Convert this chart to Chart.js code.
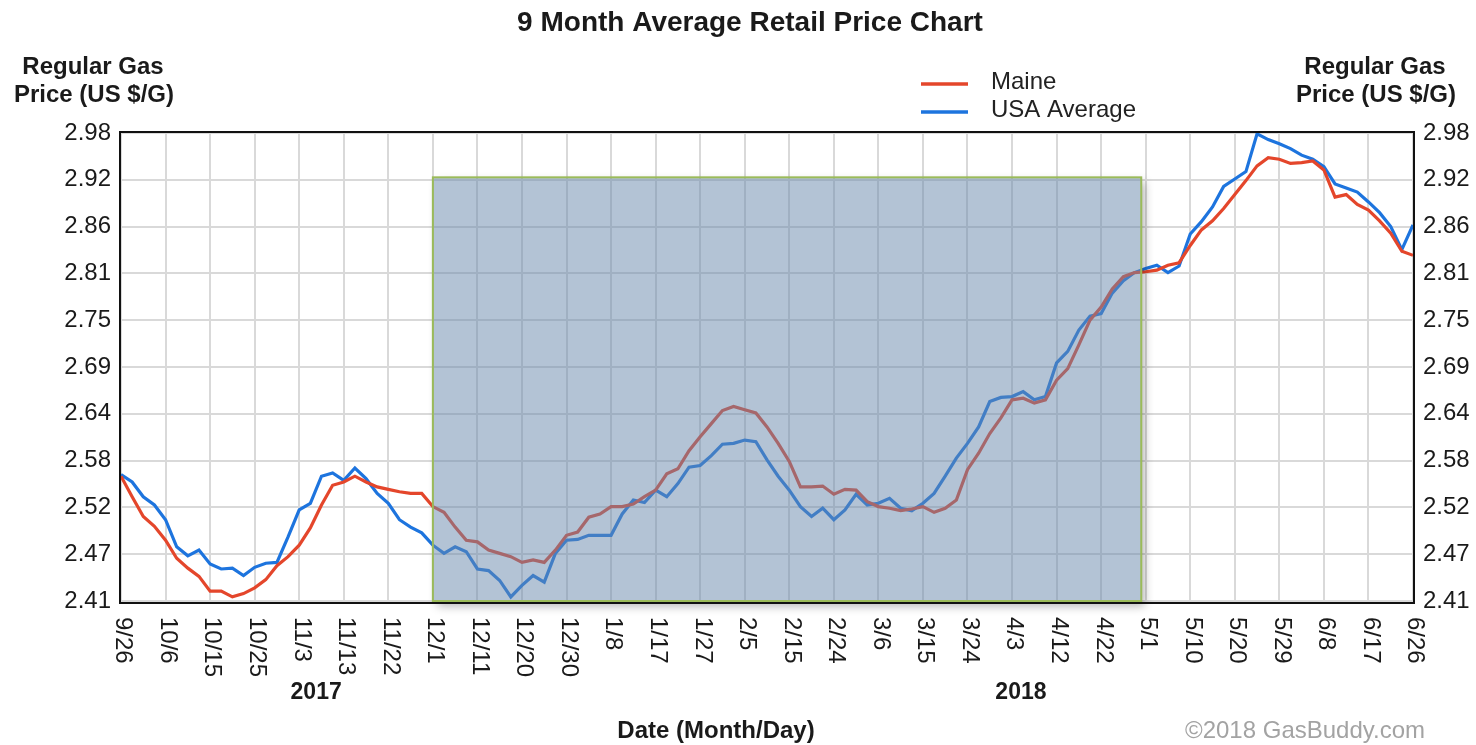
<!DOCTYPE html>
<html>
<head>
<meta charset="utf-8">
<script src="https://cdn.jsdelivr.net/npm/chart.js@4"></script>
<style>
  html, body { margin: 0; padding: 0; background: #ffffff; }
  #wrap { width: 1476px; height: 745px; position: relative; }
</style>
</head>
<body>
<div id="wrap"><canvas id="c" width="1476" height="745"></canvas></div>
<script>
// ---- data ----
const xLabels = ['9/26','10/6','10/15','10/25','11/3','11/13','11/22','12/1','12/11','12/20','12/30','1/8','1/17','1/27','2/5','2/15','2/24','3/6','3/15','3/24','4/3','4/12','4/22','5/1','5/10','5/20','5/29','6/8','6/17','6/26'];
const yTickLabels = ['2.41','2.47','2.52','2.58','2.64','2.69','2.75','2.81','2.86','2.92','2.98'];
const yMin = 2.41, yMax = 2.98;
const samplesPerLabel = 4; // readings per labelled interval
const seriesNames = ['Maine', 'USA Average'];
const yearLabels = ['2017', '2018'];

const maine = [
  2.562, 2.537, 2.513, 2.501,
  2.484, 2.462, 2.450, 2.440,
  2.422, 2.422, 2.415, 2.419,
  2.426, 2.436, 2.453, 2.464,
  2.478, 2.499, 2.527, 2.551,
  2.555, 2.562, 2.555, 2.549,
  2.546, 2.543, 2.541, 2.541,
  2.525, 2.518, 2.500, 2.484,
  2.482, 2.472, 2.468, 2.464,
  2.457, 2.460, 2.457, 2.472,
  2.490, 2.494, 2.512, 2.516,
  2.525, 2.525, 2.528, 2.537,
  2.545, 2.565, 2.571, 2.593,
  2.610, 2.626, 2.642, 2.647,
  2.643, 2.639, 2.622, 2.602,
  2.580, 2.549, 2.549, 2.550,
  2.540, 2.546, 2.545, 2.531,
  2.525, 2.523, 2.520, 2.522,
  2.525, 2.518, 2.523, 2.533,
  2.570, 2.590, 2.614, 2.633,
  2.655, 2.657, 2.651, 2.655,
  2.679, 2.693, 2.722, 2.752,
  2.768, 2.790, 2.805, 2.810,
  2.811, 2.813, 2.819, 2.822,
  2.843, 2.862, 2.873, 2.888,
  2.905, 2.922, 2.940, 2.950,
  2.948, 2.943, 2.944, 2.946,
  2.935, 2.902, 2.905, 2.893,
  2.886, 2.873, 2.858, 2.836,
  2.831
];

const usa = [
  2.564, 2.555, 2.537, 2.527,
  2.509, 2.476, 2.465, 2.472,
  2.455, 2.449, 2.450, 2.441,
  2.451, 2.456, 2.457, 2.488,
  2.521, 2.529, 2.562, 2.566,
  2.557, 2.572, 2.559, 2.541,
  2.529, 2.509, 2.500, 2.493,
  2.478, 2.468, 2.476, 2.470,
  2.449, 2.447, 2.435, 2.415,
  2.429, 2.441, 2.433, 2.468,
  2.484, 2.485, 2.490, 2.490,
  2.490, 2.516, 2.533, 2.530,
  2.545, 2.537, 2.553, 2.573,
  2.575, 2.587, 2.601, 2.602,
  2.606, 2.604, 2.582, 2.562,
  2.545, 2.525, 2.513, 2.523,
  2.509, 2.521, 2.540, 2.527,
  2.529, 2.535, 2.523, 2.520,
  2.529, 2.541, 2.562, 2.584,
  2.602, 2.622, 2.653, 2.658,
  2.659, 2.665, 2.655, 2.659,
  2.700, 2.714, 2.740, 2.757,
  2.760, 2.785, 2.800, 2.810,
  2.815, 2.819, 2.810, 2.818,
  2.857, 2.872, 2.890, 2.915,
  2.924, 2.933, 2.979, 2.972,
  2.967, 2.961, 2.953, 2.948,
  2.939, 2.918, 2.913, 2.908,
  2.896, 2.883, 2.866, 2.838,
  2.868
];

// highlighted (shaded) period, in label-interval units and price
const highlightFrom = 7, highlightTo = 22.9, highlightTop = 2.926;

// ---- styles ----
const FONT = "'Liberation Sans', Arial, Helvetica, sans-serif";
const RED = '#e4462b';
const BLUE = '#1d74de';
const GRID = '#d9d9d9';
const TEXT = '#1a1a1a';

const toPoints = arr => arr.map((v, k) => ({ x: k / samplesPerLabel, y: v }));

const yTicksBuilder = scale => {
  scale.ticks = yTickLabels.map((_, k) => ({ value: yMin + k * (yMax - yMin) / (yTickLabels.length - 1) }));
};

const decorPlugin = {
  id: 'decor',
  afterDatasetsDraw(chart) {
    const ctx = chart.ctx;
    const xs = chart.scales.x, ys = chart.scales.y;
    const l = xs.getPixelForValue(highlightFrom);
    const r = xs.getPixelForValue(highlightTo);
    const t = ys.getPixelForValue(highlightTop);
    const b = ys.getPixelForValue(yMin);
    const W = chart.width, H = chart.height;
    // shadow outside the box
    ctx.save();
    ctx.beginPath();
    ctx.rect(0, 0, W, H);
    ctx.rect(l, t, r - l, b - t);
    ctx.clip('evenodd');
    ctx.shadowColor = 'rgba(0,0,0,0.30)';
    ctx.shadowBlur = 9;
    ctx.shadowOffsetX = 10000 + 4;
    ctx.shadowOffsetY = 5;
    ctx.fillStyle = '#000';
    ctx.fillRect(l - 10000, t, r - l, b - t);
    ctx.restore();
    // translucent fill over the lines
    ctx.save();
    ctx.fillStyle = 'rgba(103,135,171,0.5)';
    ctx.fillRect(l, t, r - l, b - t);
    ctx.strokeStyle = '#9bbb59';
    ctx.lineWidth = 2;
    ctx.strokeRect(l, t, r - l, b - t);
    ctx.restore();
  },
  afterDraw(chart) {
    const ctx = chart.ctx;
    const a = chart.chartArea;
    const xs = chart.scales.x;
    ctx.save();
    // plot frame
    ctx.strokeStyle = '#111';
    ctx.lineWidth = 2;
    ctx.strokeRect(a.left - 1, a.top - 1, a.right - a.left + 2, a.bottom - a.top + 3);

    // x tick labels, rotated clockwise
    ctx.fillStyle = TEXT;
    ctx.font = `24px ${FONT}`;
    ctx.textAlign = 'left';
    ctx.textBaseline = 'middle';
    xLabels.forEach((lab, k) => {
      const px = xs.getPixelForValue(k);
      ctx.save();
      ctx.translate(px + 2, a.bottom + 16);
      ctx.rotate(Math.PI / 2);
      ctx.fillText(lab, 0, 0);
      ctx.restore();
    });

    // year labels
    ctx.font = `bold 23px ${FONT}`;
    ctx.textAlign = 'center';
    ctx.fillText(yearLabels[0], xs.getPixelForValue(4.38), 693);
    ctx.fillText(yearLabels[1], xs.getPixelForValue(20.2), 693);

    // x axis title
    ctx.font = `bold 24px ${FONT}`;
    ctx.fillText('Date (Month/Day)', 716, 731);

    // copyright
    ctx.font = `24px ${FONT}`;
    ctx.fillStyle = '#a3a3a3';
    ctx.fillText('\u00A92018 GasBuddy.com', 1305, 731);

    // title
    ctx.fillStyle = TEXT;
    ctx.font = `bold 28px ${FONT}`;
    ctx.fillText('9 Month Average Retail Price Chart', 750, 23);

    // y axis titles
    ctx.font = `bold 24px ${FONT}`;
    ctx.fillText('Regular Gas', 93, 67);
    ctx.fillText('Price (US $/G)', 94, 95);
    ctx.fillText('Regular Gas', 1375, 67);
    ctx.fillText('Price (US $/G)', 1376, 95);

    // legend
    const ds = chart.data.datasets;
    const legendOrder = [ds.findIndex(d => d.label === seriesNames[0]), ds.findIndex(d => d.label === seriesNames[1])];
    ctx.font = `24px ${FONT}`;
    ctx.textAlign = 'left';
    legendOrder.forEach((di, row) => {
      const y = 84 + row * 28;
      ctx.strokeStyle = ds[di].borderColor;
      ctx.lineWidth = 3.5;
      ctx.beginPath();
      ctx.moveTo(921, y);
      ctx.lineTo(968, y);
      ctx.stroke();
      ctx.fillStyle = '#222';
      ctx.fillText(ds[di].label, 991, y - 2);
    });
    ctx.restore();
  }
};

new Chart(document.getElementById('c'), {
  type: 'line',
  data: {
    datasets: [
      { label: seriesNames[1], data: toPoints(usa), borderColor: BLUE, borderWidth: 3.2, pointRadius: 0, tension: 0, order: 2 },
      { label: seriesNames[0], data: toPoints(maine), borderColor: RED, borderWidth: 3.2, pointRadius: 0, tension: 0, order: 1 }
    ]
  },
  options: {
    responsive: false,
    animation: false,
    devicePixelRatio: 1,
    layout: { padding: { top: 133, left: 0, right: 0, bottom: 0 } },
    plugins: { legend: { display: false }, title: { display: false }, tooltip: { enabled: false } },
    scales: {
      x: {
        type: 'linear',
        min: 0,
        max: xLabels.length - 1,
        afterBuildTicks: s => { s.ticks = xLabels.map((_, k) => ({ value: k })); },
        afterFit: s => { s.height = 144; },
        ticks: { display: false },
        grid: { color: GRID, lineWidth: 2, drawTicks: false },
        border: { display: false }
      },
      y: {
        position: 'left',
        min: yMin,
        max: yMax,
        afterBuildTicks: yTicksBuilder,
        afterFit: s => { s.width = 121; },
        ticks: {
          padding: 10,
          color: TEXT,
          font: { family: FONT, size: 24 },
          callback: (v, i) => yTickLabels[i]
        },
        grid: { color: GRID, lineWidth: 2, drawTicks: false },
        border: { display: false }
      },
      y2: {
        position: 'right',
        min: yMin,
        max: yMax,
        afterBuildTicks: yTicksBuilder,
        afterFit: s => { s.width = 63; },
        ticks: {
          padding: 10,
          color: TEXT,
          font: { family: FONT, size: 24 },
          callback: (v, i) => yTickLabels[i]
        },
        grid: { drawOnChartArea: false, drawTicks: false },
        border: { display: false }
      }
    }
  },
  plugins: [decorPlugin]
});
</script>
</body>
</html>
